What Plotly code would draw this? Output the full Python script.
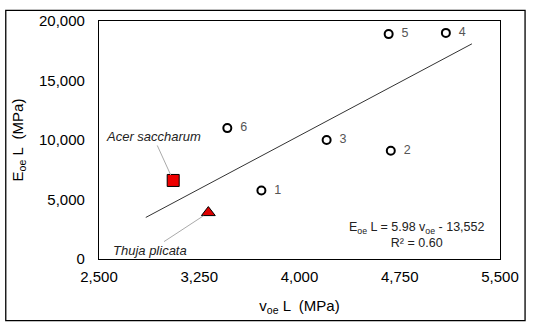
import plotly.graph_objects as go

# Data
pt_labels = ["1", "2", "3", "4", "5", "6"]
pt_x = [3715, 4683, 4203, 5095, 4667, 3460]
pt_y = [5750, 9100, 10000, 19000, 18900, 11000]

acer_x = [3055]
acer_y = [6600]
thuja_x = [3318]
thuja_y = [3900]

slope = 5.98
intercept = -13552
trend_x = [2850, 5290]
trend_y = [slope * v + intercept for v in trend_x]

x_ticks = [2500, 3250, 4000, 4750, 5500]
y_ticks = [0, 5000, 10000, 15000, 20000]

font = "Liberation Sans, Arial, sans-serif"

fig = go.Figure()
fig.add_trace(go.Scatter(x=trend_x, y=trend_y, mode="lines",
                         line=dict(color="#333333", width=1), hoverinfo="skip"))
fig.add_trace(go.Scatter(x=pt_x, y=pt_y, mode="markers+text",
                         text=["  " + s for s in pt_labels],
                         textposition="middle right",
                         textfont=dict(family=font, size=12.5, color="#555555"),
                         marker=dict(symbol="circle-open", size=8, color="black",
                                     line=dict(width=2, color="black"))))
fig.add_trace(go.Scatter(x=acer_x, y=acer_y, mode="markers",
                         marker=dict(symbol="square", size=12, color="#ee0000",
                                     line=dict(width=1, color="black"))))
fig.add_trace(go.Scatter(x=thuja_x, y=thuja_y, mode="markers",
                         marker=dict(symbol="triangle-up", size=12, color="#dd0000",
                                     line=dict(width=1, color="black"))))

fig.add_annotation(x=acer_x[0], y=acer_y[0], text="<i>Acer saccharum</i>",
                   showarrow=True, arrowhead=0, arrowwidth=1, arrowcolor="#aaaaaa",
                   ax=-20, ay=-44, standoff=6,
                   font=dict(family=font, size=13, color="#222222"))
fig.add_annotation(x=thuja_x[0], y=thuja_y[0], text="<i>Thuja plicata</i>",
                   showarrow=True, arrowhead=0, arrowwidth=1, arrowcolor="#aaaaaa",
                   ax=-58, ay=38, standoff=6,
                   font=dict(family=font, size=13, color="#222222"))
fig.add_annotation(x=0.965, y=0.03, xref="paper", yref="paper", xanchor="right",
                   yanchor="bottom", showarrow=False, align="center",
                   text="E<sub>oe</sub> L = 5.98 v<sub>oe</sub> - 13,552<br>R² = 0.60",
                   font=dict(family=font, size=12.5, color="#222222"))

fig.add_shape(type="rect", xref="paper", yref="paper",
              x0=-0.2325, x1=1.0625, y0=-0.259, y1=1.045,
              line=dict(color="black", width=1.3))

fig.update_layout(
    width=533, height=328,
    margin=dict(l=99, r=33, t=16, b=69),
    paper_bgcolor="white", plot_bgcolor="white",
    showlegend=False,
    font=dict(family=font, size=15, color="black"),
    xaxis=dict(range=[2500, 5500], tickvals=x_ticks, tickformat=",",
               showgrid=False, zeroline=False, showline=True, linecolor="black",
               linewidth=1.3, mirror=True, ticks="", tickfont=dict(size=15),
               ticklabelstandoff=4,
               title=dict(text="v<sub>oe</sub> L  (MPa)", font=dict(size=15), standoff=16)),
    yaxis=dict(range=[0, 20000], tickvals=y_ticks, tickformat=",",
               showgrid=False, zeroline=False, showline=True, linecolor="black",
               linewidth=1.3, mirror=True, ticks="", tickfont=dict(size=15),
               ticklabelstandoff=10,
               title=dict(text="E<sub>oe</sub> L  (MPa)", font=dict(size=15), standoff=11)),
)

fig.write_html("out.html", config={"displayModeBar": False},
               post_script="document.body.style.margin='0';")
